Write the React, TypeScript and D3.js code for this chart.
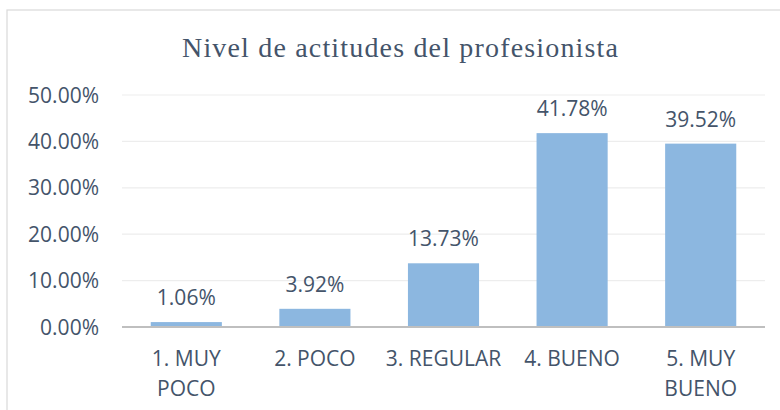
import { scaleBand, scaleLinear } from "d3";

const categories = ["1. MUY POCO", "2. POCO", "3. REGULAR", "4. BUENO", "5. MUY BUENO"];
const categoryLines = [["1. MUY", "POCO"], ["2. POCO"], ["3. REGULAR"], ["4. BUENO"], ["5. MUY", "BUENO"]];
const values = [1.06, 3.92, 13.73, 41.78, 39.52];
const yTicks = [0, 10, 20, 30, 40, 50];
const title = "Nivel de actitudes del profesionista";

const width = 780;
const height = 410;
const plotLeft = 122;
const plotRight = 765;
const plotTop = 95;
const plotBottom = 327;
const textColor = "#44546a";
const labelFont = "'Open Sans', 'Liberation Sans', sans-serif";
const labelSize = 21;

function App() {
  const xScale = scaleBand<string>()
    .domain(categories)
    .range([plotLeft, plotRight])
    .paddingInner(0.447)
    .paddingOuter(0.2235);

  const yScale = scaleLinear().domain([0, 50]).range([plotBottom, plotTop]);

  return (
    <svg
      width={width}
      height={height}
      style={{ position: "absolute", left: 0, top: 0 }}
    >
      <rect x={0} y={0} width={width} height={height} fill="#ffffff" />
      <rect
        x={7}
        y={10}
        width={width + 20}
        height={height + 20}
        fill="none"
        stroke="#d9d9d9"
        strokeWidth={1.2}
      />
      <text
        x={400}
        y={57}
        textAnchor="middle"
        fontFamily="'Liberation Serif', 'Times New Roman', serif"
        fontSize={28}
        fill={textColor}
        textLength={436}
        lengthAdjust="spacing"
      >
        {title}
      </text>
      {yTicks.map((t) => (
        <g key={`tick-${t}`}>
          {t > 0 ? (
            <line
              x1={plotLeft}
              x2={plotRight}
              y1={yScale(t)}
              y2={yScale(t)}
              stroke="#ededed"
              strokeWidth={1.2}
            />
          ) : null}
          <text
            x={99}
            y={yScale(t)}
            dy="0.36em"
            textAnchor="end"
            fontFamily={labelFont}
            fontSize={labelSize}
            fill={textColor}
          >
            {`${t.toFixed(2)}%`}
          </text>
        </g>
      ))}
      {categories.map((c, i) => {
        const x = xScale(c) ?? 0;
        const v = values[i];
        return (
          <g key={c}>
            <rect
              x={x}
              y={yScale(v)}
              width={xScale.bandwidth()}
              height={plotBottom - yScale(v)}
              fill="#8cb7e0"
            />
            <text
              x={x + xScale.bandwidth() / 2}
              y={yScale(v) - 17}
              textAnchor="middle"
              fontFamily={labelFont}
              fontSize={labelSize}
              fill={textColor}
            >
              {`${v.toFixed(2)}%`}
            </text>
          </g>
        );
      })}
      <line
        x1={plotLeft}
        x2={plotRight}
        y1={plotBottom}
        y2={plotBottom}
        stroke="#bfbfbf"
        strokeWidth={2}
      />
      {categories.map((c, i) => {
        const cx = (xScale(c) ?? 0) + xScale.bandwidth() / 2;
        return (
          <text
            key={`cat-${c}`}
            textAnchor="middle"
            fontFamily={labelFont}
            fontSize={labelSize}
            fill={textColor}
          >
            {categoryLines[i].map((line, j) => (
              <tspan key={line} x={cx} y={366 + j * 30}>
                {line}
              </tspan>
            ))}
          </text>
        );
      })}
    </svg>
  );
}

export default App;
